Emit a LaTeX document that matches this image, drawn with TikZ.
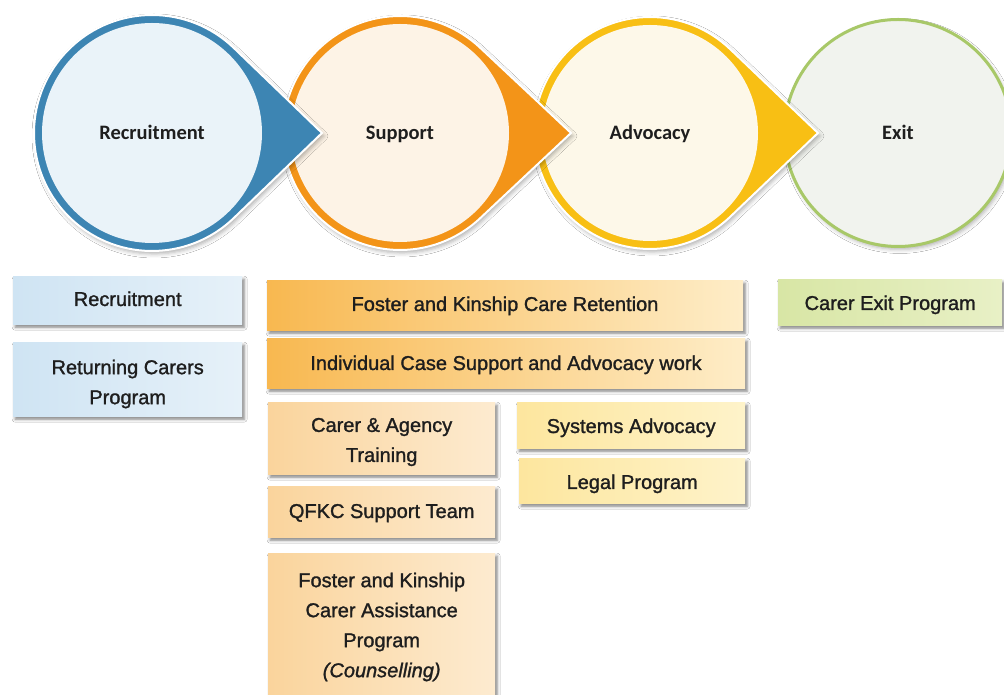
\documentclass[tikz,border=0pt]{standalone}
\usepackage{fontspec}
\setmainfont{Liberation Sans}[FakeBold=1.3]
\newfontfamily\circfont{Carlito}
\usetikzlibrary{shadows.blur}

% stage colours
\definecolor{recring}{HTML}{3D85B3}
\definecolor{recfill}{HTML}{EAF3F9}
\definecolor{supring}{HTML}{F39418}
\definecolor{supfill}{HTML}{FDF3E6}
\definecolor{advring}{HTML}{F8BF14}
\definecolor{advfill}{HTML}{FDF8E9}
\definecolor{exitring}{HTML}{A8C868}
\definecolor{exitfill}{HTML}{F1F3EE}
% programme box colours
\definecolor{blueL}{HTML}{CFE4F3}
\definecolor{blueR}{HTML}{E6F1F9}
\definecolor{orgL}{HTML}{F8B850}
\definecolor{orgR}{HTML}{FEEDC8}
\definecolor{peachL}{HTML}{FAD49C}
\definecolor{peachR}{HTML}{FDEBD0}
\definecolor{yelL}{HTML}{FDE69E}
\definecolor{yelR}{HTML}{FEF3CA}
\definecolor{grnL}{HTML}{D8E6A5}
\definecolor{grnR}{HTML}{E8F0C6}
\definecolor{ink}{HTML}{1E1E1E}

% teardrop: #1 centre x, #2 outer radius, #3 tip distance, #4 colour
\newcommand\stagedrop[4]{%
  \pgfmathsetmacro\dropth{acos(#2/#3)}%
  \path[drop, fill=#4]
    ([shift={(\dropth:#2)}]#1,562) -- ({#1+#3},562)
    -- ([shift={(-\dropth:#2)}]#1,562)
    arc[start angle=-\dropth, end angle=\dropth-360, radius=#2] -- cycle;}

\tikzset{
  drop/.style={draw=white, line width=2pt,
    blur shadow={shadow xshift=2pt, shadow yshift=-3pt,
      shadow blur radius=4pt, shadow opacity=30}},
  stage/.style={circle, inner sep=0pt, text=ink,
    text height=13pt, text depth=0pt,
    font=\circfont\bfseries\fontsize{20.5}{22}\selectfont},
  progbox/.style={anchor=north west, inner sep=0pt,
    blur shadow={shadow xshift=2pt, shadow yshift=-3pt,
      shadow blur radius=3pt, shadow opacity=50}},
  boxtext/.style={inner sep=0pt, align=center, text=ink,
    font=\fontsize{20}{30}\selectfont},
  onetext/.style={boxtext, text height=14pt, text depth=4pt},
}

\begin{document}
\begin{tikzpicture}[x=1pt,y=1pt]
\fill[white] (0,0) rectangle (1004,695);
\useasboundingbox (0,0) rectangle (1004,695);

% stages, drawn right to left so each arrow lies over the next circle
\node[stage, minimum size=227pt, fill=exitfill, draw=exitring, line width=3pt,
  blur shadow={shadow xshift=2pt, shadow yshift=-3pt, shadow blur radius=4pt, shadow opacity=30}]
  (exitC) at (898,562) {Exit};

\stagedrop{650}{116}{168}{advring}
\node[stage, minimum size=216pt, fill=advfill] (advC) at (650,562) {Advocacy};

\stagedrop{400}{117}{171}{supring}
\node[stage, minimum size=218pt, fill=supfill] (supC) at (400,562) {Support};

\stagedrop{152}{118}{170}{recring}
\node[stage, minimum size=220pt, fill=recfill] (recC) at (152,562) {Recruitment};

% programme boxes
\node[progbox, minimum width=229pt, minimum height=48pt, left color=blueL, right color=blueR] (recB) at (13,419) {};
\node[progbox, minimum width=229pt, minimum height=74pt, left color=blueL, right color=blueR] (retB) at (13,353) {};
\node[progbox, minimum width=476pt, minimum height=50pt, left color=orgL, right color=orgR] (fkrB) at (267,415) {};
\node[progbox, minimum width=478pt, minimum height=50pt, left color=orgL, right color=orgR] (icsB) at (267,357) {};
\node[progbox, minimum width=227pt, minimum height=72pt, left color=peachL, right color=peachR] (trnB) at (268,293) {};
\node[progbox, minimum width=227pt, minimum height=51pt, left color=peachL, right color=peachR] (qfkB) at (268,209) {};
\node[progbox, minimum width=227pt, minimum height=146pt, left color=peachL, right color=peachR] (fkaB) at (268,142) {};
\node[progbox, minimum width=228pt, minimum height=46pt, left color=yelL, right color=yelR] (sysB) at (517,293) {};
\node[progbox, minimum width=226pt, minimum height=45pt, left color=yelL, right color=yelR] (legB) at (519,237) {};
\node[progbox, minimum width=224pt, minimum height=46pt, left color=grnL, right color=grnR] (exB) at (778,416) {};

% box labels
\node[onetext] (recT) at (recB.center |- 0,394) {Recruitment};
\node[boxtext] (retT) at (retB.center |- 0,311) {Returning Carers\\Program};
\node[onetext] (fkrT) at (505,389) {Foster and Kinship Care Retention};
\node[onetext] (icsT) at (506,330) {Individual Case Support and Advocacy work};
\node[boxtext] (trnT) at (trnB.center |- 0,253) {Carer \& Agency\\Training};
\node[onetext] (qfkT) at (qfkB.center |- 0,182) {QFKC Support Team};
\node[boxtext] (fkaT) at (fkaB.center |- 0,68) {Foster and Kinship\\Carer Assistance\\Program\\\textit{(Counselling)}};
\node[onetext] (sysT) at (sysB.center |- 0,267) {Systems Advocacy};
\node[onetext] (legT) at (legB.center |- 0,211) {Legal Program};
\node[onetext] (exT) at (exB.center |- 0,390) {Carer Exit Program};
\end{tikzpicture}
\end{document}
